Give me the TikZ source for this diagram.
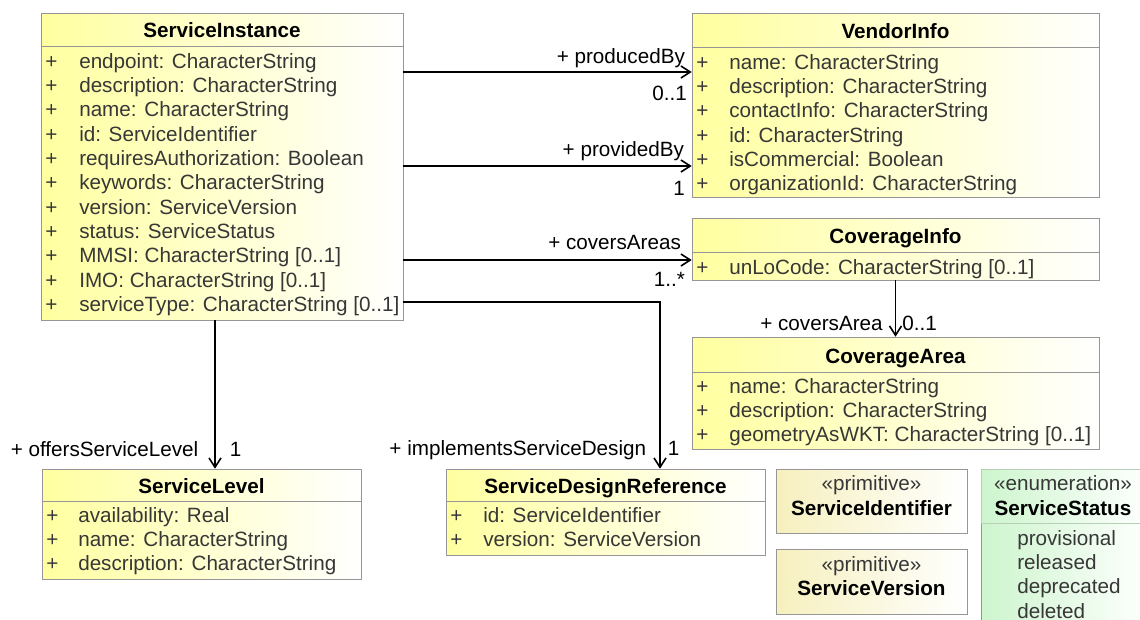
\documentclass[tikz,border=0pt]{standalone}
\usepackage{fontspec}
\setmainfont{Liberation Sans}
\usetikzlibrary{calc,arrows.meta,fit,shadows}

\definecolor{classyellow}{RGB}{255,255,160}
\definecolor{primyellow}{RGB}{246,240,190}
\definecolor{enumgreen}{RGB}{205,245,205}
\definecolor{boxgray}{RGB}{150,150,150}
\definecolor{attrgray}{RGB}{55,55,55}
\newcommand{\umlfont}{\fontsize{15.5}{18.5}\selectfont}

\begin{document}
\begin{tikzpicture}[x=0.75pt,y=-0.75pt,
	classbox/.style={draw=boxgray, inner sep=0, left color=classyellow, right color=white,
		drop shadow={shadow xshift=1pt, shadow yshift=-1pt, opacity=.25}},
	primbox/.style={classbox, left color=primyellow},
	enumbox/.style={classbox, left color=enumgreen},
	headbox/.style={draw=boxgray, inner sep=0},
	title/.style={font=\umlfont\bfseries, anchor=base, inner sep=0},
	stereo/.style={font=\umlfont, text=attrgray, anchor=base, inner sep=0},
	attr/.style={font=\umlfont, text=attrgray, anchor=base west, inner sep=0},
	assoc/.style={-{Straight Barb[length=7pt,width=9pt]}, line width=1.2pt},
	lbl/.style={font=\umlfont, inner sep=0, anchor=base east},
	lblr/.style={font=\umlfont, inner sep=0, anchor=base west}]
	\useasboundingbox (0,0) rectangle (1140,619);
	\clip (0,0) rectangle (1140,619);

	% ServiceInstance
	\node[classbox, fit={(41,13) (403,320)}] (si) {};
	\node[headbox, fit={(41,13) (403,46)}] (si-h) {};
	\node[title] at (222,37) {ServiceInstance};
	\foreach \a [count=\i from 0] in {endpoint: CharacterString, description: CharacterString,
		name: CharacterString, id: ServiceIdentifier, requiresAuthorization: Boolean,
		keywords: CharacterString, version: ServiceVersion, status: ServiceStatus,
		MMSI: CharacterString [0..1], IMO: CharacterString [0..1], serviceType: CharacterString [0..1]} {
		\node[attr] at (45,68+24.35*\i) {+};
		\node[attr] at (79,68+24.35*\i) {\a};
	}

	% VendorInfo
	\node[classbox, fit={(692,13) (1099,197)}] (vi) {};
	\node[headbox, fit={(692,13) (1099,47)}] (vi-h) {};
	\node[title] at (895.5,38) {VendorInfo};
	\foreach \a [count=\i from 0] in {name: CharacterString, description: CharacterString,
		contactInfo: CharacterString, id: CharacterString, isCommercial: Boolean,
		organizationId: CharacterString} {
		\node[attr] at (696,69+24.35*\i) {+};
		\node[attr] at (729,69+24.35*\i) {\a};
	}

	% CoverageInfo
	\node[classbox, fit={(692,218) (1099,280)}] (ci) {};
	\node[headbox, fit={(692,218) (1099,252)}] (ci-h) {};
	\node[title] at (895.5,243) {CoverageInfo};
	\node[attr] at (696,274) {+};
	\node[attr] at (729,274) {unLoCode: CharacterString [0..1]};

	% CoverageArea
	\node[classbox, fit={(692,337) (1099,449)}] (ca) {};
	\node[headbox, fit={(692,337) (1099,372)}] (ca-h) {};
	\node[title] at (895.5,363) {CoverageArea};
	\foreach \a [count=\i from 0] in {name: CharacterString, description: CharacterString,
		geometryAsWKT: CharacterString [0..1]} {
		\node[attr] at (696,393+24.35*\i) {+};
		\node[attr] at (729,393+24.35*\i) {\a};
	}

	% ServiceLevel
	\node[classbox, fit={(42,469) (361,579)}] (sl) {};
	\node[headbox, fit={(42,469) (361,501)}] (sl-h) {};
	\node[title] at (201.5,493) {ServiceLevel};
	\foreach \a [count=\i from 0] in {availability: Real, name: CharacterString,
		description: CharacterString} {
		\node[attr] at (46,522+24.35*\i) {+};
		\node[attr] at (78,522+24.35*\i) {\a};
	}

	% ServiceDesignReference
	\node[classbox, fit={(446,469) (765,555)}] (sdr) {};
	\node[headbox, fit={(446,469) (765,501)}] (sdr-h) {};
	\node[title] at (605.5,493) {ServiceDesignReference};
	\foreach \a [count=\i from 0] in {id: ServiceIdentifier, version: ServiceVersion} {
		\node[attr] at (450,522+24.35*\i) {+};
		\node[attr] at (483,522+24.35*\i) {\a};
	}

	% primitives
	\node[primbox, fit={(776,469) (967,533)}] (sid) {};
	\node[stereo] at (871.5,490) {«primitive»};
	\node[title] at (871.5,515) {ServiceIdentifier};
	\node[primbox, fit={(776,549) (967,614)}] (sv) {};
	\node[stereo] at (871.5,571) {«primitive»};
	\node[title] at (871.5,595) {ServiceVersion};

	% enumeration
	\node[enumbox, fit={(981,469) (1150,640)}] (ss) {};
	\node[headbox, draw=enumgreen!60!boxgray, fit={(981,469) (1150,523)}] (ss-h) {};
	\node[stereo] at (1063,490) {«enumeration»};
	\node[title] at (1063,515) {ServiceStatus};
	\foreach \a [count=\i from 0] in {provisional, released, deprecated, deleted}
		\node[attr] at (1017,545+24.35*\i) {\a};

	% associations
	\coordinate (pb) at (0,72);
	\coordinate (pvb) at (0,166);
	\coordinate (cas) at (0,260);
	\coordinate (isd) at (660,302);
	\coordinate (osl) at (215,0);
	\draw[assoc] (si.east |- pb) -- (vi.west |- pb)
		node[lbl, xshift=-4.5pt, yshift=6.5pt] {+ producedBy}
		node[lbl, xshift=-3pt, yshift=-21pt] {0..1};
	\draw[assoc] (si.east |- pvb) -- (vi.west |- pvb)
		node[lbl, xshift=-5.25pt, yshift=7.5pt] {+ providedBy}
		node[lbl, xshift=-4.5pt, yshift=-21.75pt] {1};
	\draw[assoc] (si.east |- cas) -- (ci.west |- cas)
		node[lbl, xshift=-7.5pt, yshift=8.25pt] {+ coversAreas}
		node[lbl, xshift=-4.5pt, yshift=-19.5pt] {1..*};
	\draw[assoc] (si.east |- isd) -| (sdr.north -| isd)
		node[lbl, xshift=-9.75pt, yshift=9.75pt] {+ implementsServiceDesign}
		node[lblr, xshift=5.25pt, yshift=9.75pt] {1};
	\draw[assoc] (si.south -| osl) -- (sl.north -| osl)
		node[lbl, xshift=-12pt, yshift=9pt] {+ offersServiceLevel}
		node[lblr, xshift=10.5pt, yshift=9pt] {1};
	\draw[assoc] (ci.south) -- (ca.north)
		node[lbl, xshift=-9pt, yshift=4.5pt] {+ coversArea}
		node[lblr, xshift=4.5pt, yshift=4.5pt] {0..1};
\end{tikzpicture}
\end{document}
